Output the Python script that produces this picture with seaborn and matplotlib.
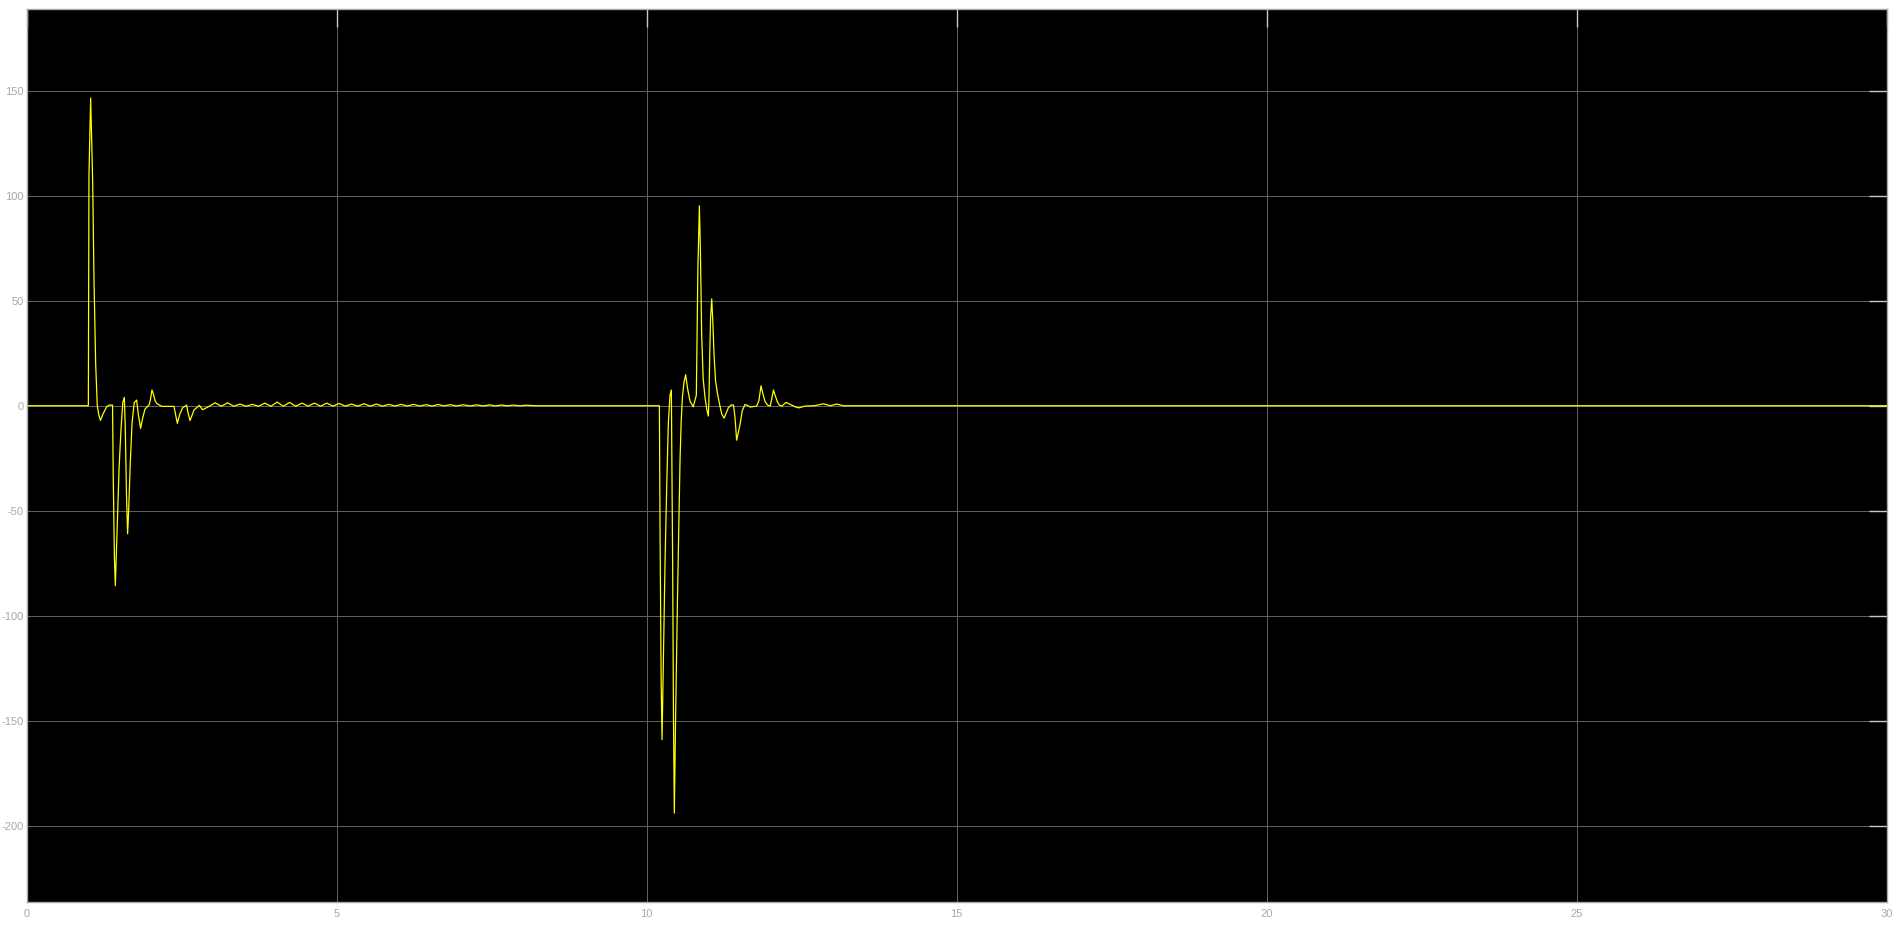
import numpy as np
import pandas as pd
import seaborn as sns
import matplotlib
matplotlib.use("Agg")
import matplotlib.pyplot as plt

# first transient (t ~ 1 s)
t_first = [0.0, 0.995, 1.005, 1.032, 1.064, 1.086, 1.113, 1.139, 1.165, 1.19, 1.23, 1.29, 1.33,
           1.385, 1.397, 1.415, 1.43, 1.455, 1.49, 1.52, 1.55, 1.575, 1.59, 1.61, 1.628, 1.645,
           1.67, 1.70, 1.735, 1.774, 1.80, 1.838, 1.87, 1.908, 1.978, 2.0, 2.021, 2.045, 2.07,
           2.097, 2.177, 2.376, 2.40, 2.43, 2.47, 2.515, 2.58, 2.60, 2.634, 2.70, 2.784, 2.838, 2.93]
v_first = [0.0, 0.0, 110.0, 146.5, 107.5, 59.7, 19.9, 0.0, -4.5, -7.0, -4.0, -0.5, 0.3,
           0.3, -35.0, -72.0, -85.7, -62.0, -30.0, -12.0, 1.5, 4.0, -10.0, -42.0, -61.0, -50.0,
           -28.0, -8.0, 1.5, 2.7, -4.0, -10.8, -6.0, -1.6, 0.5, 3.5, 7.5, 5.5, 2.5,
           1.1, -0.3, -0.3, -4.0, -8.4, -4.0, -1.0, 0.3, -3.0, -7.1, -2.0, 0.2, -1.9, -0.5]

# small ripple after the first transient
t_ripple = [3.04, 3.14, 3.24, 3.34, 3.44, 3.54, 3.64, 3.74, 3.84, 3.94, 4.04, 4.14, 4.24, 4.34,
            4.44, 4.54, 4.64, 4.74, 4.84, 4.94, 5.04, 5.14, 5.24, 5.34, 5.44, 5.54, 5.64, 5.74,
            5.84, 5.94, 6.04, 6.14, 6.24, 6.34, 6.44, 6.54, 6.64, 6.73, 6.83, 6.93, 7.04, 7.15,
            7.26, 7.36, 7.47, 7.56, 7.66, 7.75, 7.85, 7.95, 8.06, 8.2]
v_ripple = [1.4, -0.25, 1.4, -0.25, 0.8, -0.25, 0.65, -0.25, 1.25, -0.25, 1.75, -0.25, 1.6, -0.25,
            1.25, -0.2, 1.25, -0.2, 1.25, -0.2, 1.1, -0.2, 0.8, -0.2, 0.95, -0.2, 0.8, -0.2,
            0.65, -0.15, 0.65, -0.15, 0.65, -0.15, 0.5, -0.15, 0.6, -0.1, 0.5, -0.1, 0.45, -0.1,
            0.4, -0.1, 0.4, -0.1, 0.35, -0.05, 0.3, -0.05, 0.25, 0.0]

# second transient (t ~ 10.2 s)
t_second = [10.204, 10.215, 10.232, 10.247, 10.27, 10.295, 10.325, 10.349, 10.375, 10.397,
            10.418, 10.432, 10.445, 10.465, 10.494, 10.52, 10.537, 10.555, 10.575, 10.60, 10.628,
            10.66, 10.70, 10.75, 10.80, 10.825, 10.849, 10.865, 10.886, 10.91, 10.94, 10.97,
            10.994, 11.005, 11.016, 11.03, 11.048, 11.066, 11.086, 11.11, 11.14, 11.18, 11.21,
            11.247, 11.28, 11.316, 11.36, 11.40, 11.425, 11.45, 11.475, 11.505, 11.54, 11.585,
            11.62, 11.666, 11.773, 11.81, 11.843, 11.875, 11.91, 11.95, 11.99, 12.015, 12.043,
            12.07, 12.107, 12.14, 12.177, 12.215, 12.247, 12.29, 12.34, 12.40, 12.456, 12.553,
            12.71, 12.85, 12.96, 13.065, 13.17, 30.0]
v_second = [0.0, -60.0, -130.0, -159.0, -120.0, -75.0, -35.0, -8.0, 5.0, 7.5,
            -75.0, -150.0, -194.0, -150.0, -95.0, -52.0, -26.0, -8.0, 4.0, 11.0, 14.8,
            8.0, 2.0, -0.5, 5.0, 65.0, 95.2, 75.0, 34.0, 13.0, 4.0, -2.0,
            -4.9, 5.0, 24.0, 42.0, 50.9, 40.0, 24.0, 12.0, 5.9, 0.0, -4.0,
            -5.9, -3.5, -1.0, 0.4, 0.3, -6.0, -16.4, -13.0, -8.9, -2.5, 0.6,
            0.2, -0.6, -0.2, 2.5, 9.5, 5.5, 1.9, 0.3, -0.2, 3.0, 7.5,
            5.0, 1.9, 0.3, -0.2, 0.8, 1.6, 1.0, 0.3, -0.6, -1.0, -0.15,
            0.0, 0.95, 0.0, 0.8, 0.0, 0.0]

x_ticks = [0, 5, 10, 15, 20, 25, 30]
y_ticks = [-200, -150, -100, -50, 0, 50, 100, 150]

df = pd.DataFrame({
    "t": t_first + t_ripple + t_second,
    "v": v_first + v_ripple + v_second,
})

sns.set_theme(style="darkgrid", rc={
    "axes.facecolor": "black",
    "figure.facecolor": "white",
    "grid.color": "#646464",
    "grid.linewidth": 0.7,
    "axes.edgecolor": "#a8a8a8",
    "axes.linewidth": 1.0,
    "axes.unicode_minus": False,
})
plt.rcParams["font.family"] = ["Liberation Sans", "DejaVu Sans"]

fig = plt.figure(figsize=(19.04, 9.40), dpi=100)
ax = fig.add_axes([0.014, 0.0407, 0.977, 0.9492])

sns.lineplot(data=df, x="t", y="v", estimator=None, sort=False,
             color="#ffff00", linewidth=0.9, ax=ax)

ax.set_xlim(0, 30)
ax.set_ylim(-236.2, 188.7)
ax.set_xticks(x_ticks)
ax.set_yticks(y_ticks)
ax.set_xlabel("")
ax.set_ylabel("")
for s in ax.spines.values():
    s.set_visible(True)
    s.set_color("#a8a8a8")
ax.tick_params(direction="in", length=13, width=1, color="#c8c8c8",
               top=True, right=True, labelcolor="#a8a8a8", labelsize=8)
ax.tick_params(axis="y", pad=2)
ax.tick_params(axis="x", pad=5)

fig.savefig("out.png", dpi=100)
